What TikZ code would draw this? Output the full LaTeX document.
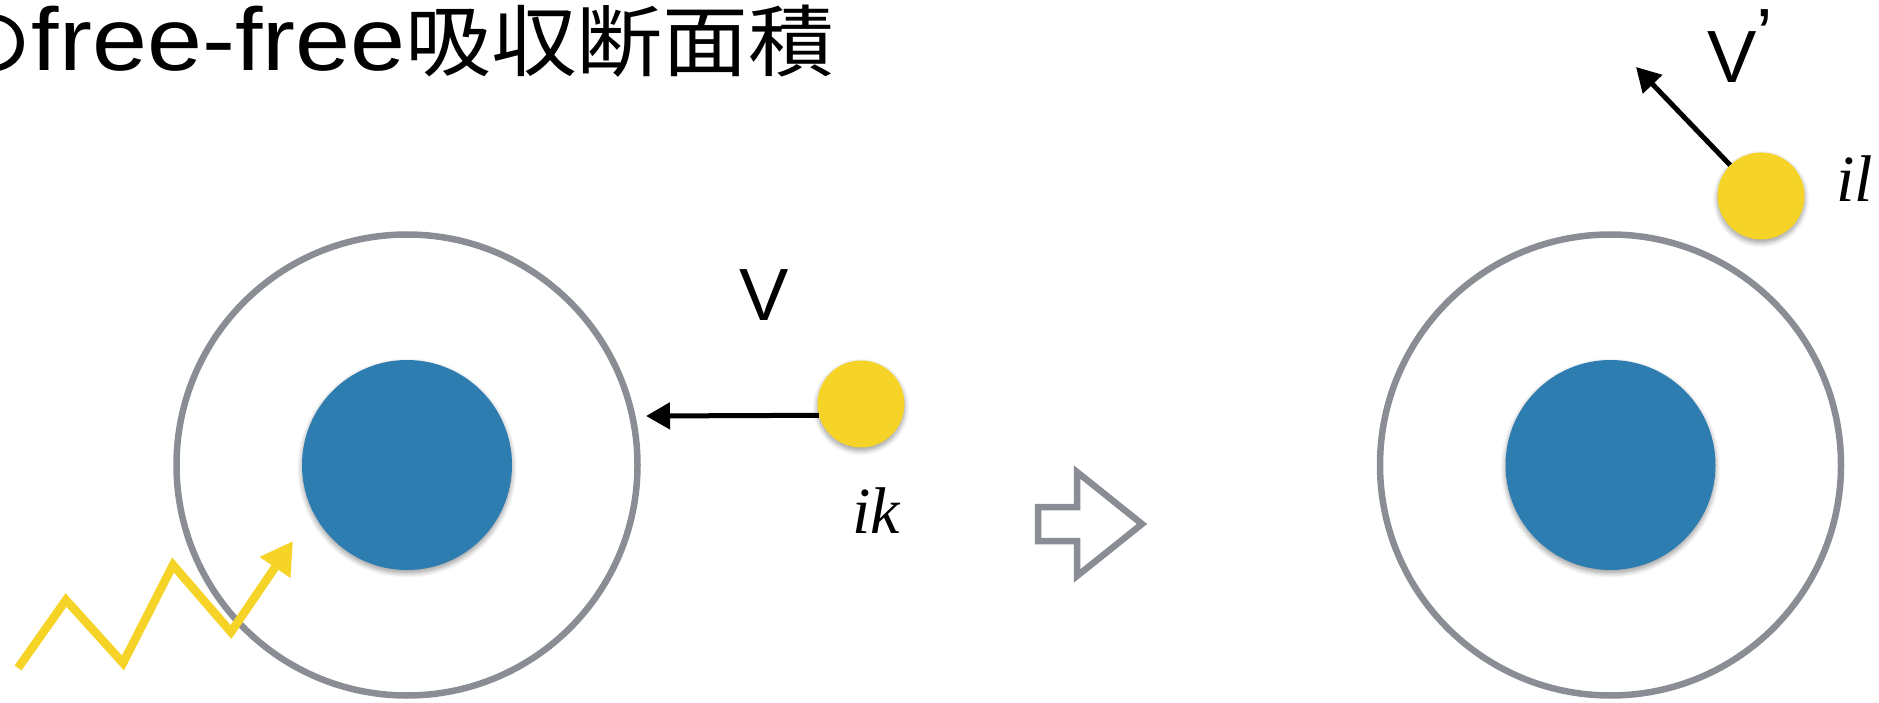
\documentclass[tikz,border=0pt]{standalone}
\usepackage{fontspec}
\setmainfont{Liberation Sans}
\newfontfamily\cjk[FakeStretch=1.1]{Noto Sans CJK JP}
\newfontfamily\wide[FakeStretch=1.11]{Liberation Sans}
\newfontfamily\ital{Liberation Serif}
\usepackage{tikz}
\usetikzlibrary{positioning, arrows.meta, shadows.blur}
\definecolor{ringgray}{HTML}{8A8D93}
\definecolor{nucblue}{HTML}{2E7DB0}
\definecolor{ballyellow}{HTML}{F5D327}
\tikzstyle{soft} = [blur shadow={shadow xshift=0pt, shadow yshift=-3pt, shadow opacity=40, shadow blur radius=5pt, shadow blur steps=8}]
\tikzstyle{atom} = [circle, draw=ringgray, line width=6.5pt, minimum size=461pt, inner sep=0pt]
\tikzstyle{nucleus} = [circle, fill=nucblue, minimum size=210pt, inner sep=0pt, soft]
\tikzstyle{ball} = [circle, fill=ballyellow, minimum size=87pt, inner sep=0pt, soft]
\tikzstyle{vel} = [font=\fontsize{74}{74}\selectfont]
\tikzstyle{state} = [anchor=base west, inner sep=0pt, font=\fontsize{66}{66}\selectfont\ital\itshape]
\tikzstyle{move} = [black, line width=5pt, -{Triangle[length=24pt, width=26pt]}]

\begin{document}
\begin{tikzpicture}[x=1pt, y=-1pt, node distance=736pt]

    \useasboundingbox (0,0) rectangle (1879,703);

    \node[anchor=base west, inner sep=0pt] (title) at (-54,71) {%
        \fontsize{78}{78}\selectfont\cjk の\fontsize{89}{89}\selectfont\wide free-free\fontsize{78}{78}\selectfont\cjk 吸収断面積};

    % both atoms
    \node[atom] (atomL) at (407,465) {};
    \node[atom, right=of atomL] (atomR) {};
    \node[nucleus] (nucL) at (atomL) {};
    \node[nucleus] (nucR) at (atomR) {};

    % incoming and outgoing electron
    \node[ball] (ballik) at (861,404) {};
    \node[ball] (ballil) at (1761,196) {};
    \node[state] (ik) at (852,533) {ik};
    \node[state] (il) at (1836,202) {il};
    \node[vel] (v) at (764,295) {V};
    \node[vel, anchor=base west, inner sep=0pt] (vp) at (1707,83) {V\raisebox{22pt}{’}};

    \coordinate (vtip) at (646,416);
    \coordinate (vptip) at (1636,67);
    \draw[move] (ballik.195) -- (vtip);
    \draw[move] (ballil.135) -- (vptip);

    % photon
    \coordinate (ph0) at (18,668);
    \coordinate (ph1) at (66,600);
    \coordinate (ph2) at (123,663);
    \coordinate (ph3) at (173,565);
    \coordinate (ph4) at (231,632);
    \coordinate (ph5) at (293,541);
    \draw[ballyellow, line width=8.5pt, miter limit=10, -{Triangle[length=32pt, width=35pt]}]
        (ph0) -- (ph1) -- (ph2) -- (ph3) -- (ph4) -- (ph5);

    % hollow arrow between the two states
    \draw[ringgray, line width=6.5pt, fill=white]
        (1038,507) -- (1077,507) -- (1077,472) -- (1142,524)
        -- (1077,576) -- (1077,541) -- (1038,541) -- cycle;

\end{tikzpicture}
\end{document}
